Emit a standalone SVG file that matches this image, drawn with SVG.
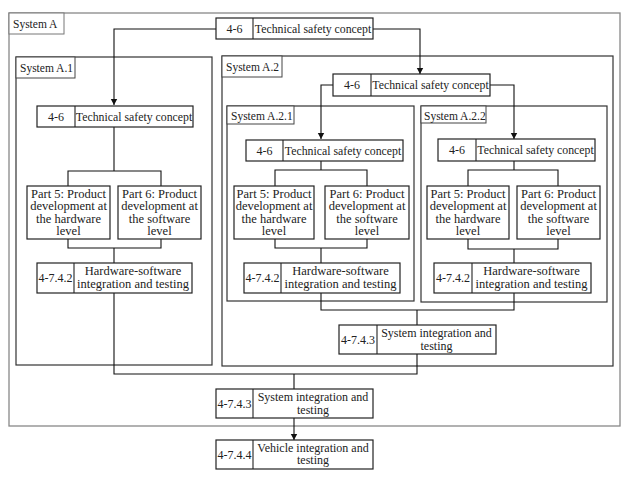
<svg xmlns="http://www.w3.org/2000/svg" width="631" height="483" viewBox="0 0 631 483">
<defs>
<style>
.box{fill:#fff;stroke:#222;stroke-width:1.2}
.frame{fill:none;stroke:#333;stroke-width:1.2}
.outer{fill:none;stroke:#888;stroke-width:1.3}
.lbl{fill:#fff;stroke:#444;stroke-width:1}
.div{stroke:#222;stroke-width:1.1}
.t{font-family:"Liberation Serif","Times New Roman",serif;font-size:11.5px;fill:#222}
.n{font-size:12px}
.s{font-size:11.8px}
.p{font-size:12.5px}
.m{text-anchor:middle}
.c{fill:none;stroke:#111;stroke-width:1.1}
</style>
<marker id="ah" markerWidth="6" markerHeight="8" refX="6" refY="4" orient="auto" markerUnits="userSpaceOnUse"><path d="M0,0.8 L6,4 L0,7.2 Z" fill="#111"/></marker>
</defs>
<rect width="631" height="483" fill="#fff"/>

<g id="systemA">
<rect class="outer" x="9" y="13" width="611" height="413"/>
<rect class="lbl" x="9" y="13" width="55" height="21" style="stroke:#777"/>
<text class="t" x="13" y="28">System A</text>
</g>
<g id="systemA1">
<rect class="frame" x="16" y="57" width="196" height="308"/>
<rect class="lbl" x="16" y="57" width="59" height="21"/>
<text class="t" x="20" y="72">System A.1</text>
</g>
<g id="systemA2">
<rect class="frame" x="222" y="56" width="391" height="310"/>
<rect class="lbl" x="222" y="56" width="60" height="21"/>
<text class="t" x="226" y="71">System A.2</text>
</g>
<g id="systemA21">
<rect class="frame" x="227" y="106" width="187" height="195"/>
<rect class="lbl" x="227" y="106" width="67" height="18"/>
<text class="t" x="231" y="120">System A.2.1</text>
</g>
<g id="systemA22">
<rect class="frame" x="421" y="106" width="186" height="196"/>
<rect class="lbl" x="421" y="106" width="65" height="17"/>
<text class="t" x="424" y="120">System A.2.2</text>
</g>

<g id="connectors">
<path class="c" d="M216,29 H114 V105" marker-end="url(#ah)"/>
<path class="c" d="M373,29 H420 V74" marker-end="url(#ah)"/>
<path class="c" d="M114,127 V171 M68,186 V171 H161 V186 M68,239 V248 H161 V239 M114,248 V263"/>
<path class="c" d="M114,293 V374 H417 V354 M294,374 V389"/>
<path class="c" d="M333,85 H321 V139" marker-end="url(#ah)"/>
<path class="c" d="M490,85 H514 V139" marker-end="url(#ah)"/>
<path class="c" d="M321,161 V170 M275,186 V170 H367 V186 M275,239 V248 H367 V239 M321,248 V263"/>
<path class="c" d="M514,161 V170 M468,186 V170 H558 V186 M468,239 V249 H558 V239 M514,249 V263"/>
<path class="c" d="M321,293 V310 H514 V293 M417,310 V325"/>
<path class="c" d="M294,418 V440" marker-end="url(#ah)"/>
</g>

<g id="tsc_top">
<rect class="box" x="216" y="18" width="157" height="21"/>
<line class="div" x1="253" y1="18" x2="253" y2="39"/>
<text class="t n m" x="234.5" y="33">4-6</text>
<text class="t s m" x="313" y="33">Technical safety concept</text>
</g>

<g id="tsc_a1">
<rect class="box" x="37" y="106" width="156" height="21"/>
<line class="div" x1="75" y1="106" x2="75" y2="127"/>
<text class="t n m" x="56" y="121">4-6</text>
<text class="t s m" x="134" y="121">Technical safety concept</text>
</g>
<g id="p5_a1">
<rect class="box" x="27" y="186" width="83" height="53"/>
<text class="t p m" x="68.5" y="197.5">Part 5: Product</text>
<text class="t p m" x="68.5" y="210">development at</text>
<text class="t p m" x="68.5" y="222.5">the hardware</text>
<text class="t p m" x="68.5" y="235">level</text>
</g>
<g id="p6_a1">
<rect class="box" x="118" y="186" width="83" height="53"/>
<text class="t p m" x="159.5" y="197.5">Part 6: Product</text>
<text class="t p m" x="159.5" y="210">development at</text>
<text class="t p m" x="159.5" y="222.5">the software</text>
<text class="t p m" x="159.5" y="235">level</text>
</g>
<g id="hw_a1">
<rect class="box" x="37" y="263" width="155" height="30"/>
<line class="div" x1="74" y1="263" x2="74" y2="293"/>
<text class="t n m" x="55.5" y="282">4-7.4.2</text>
<text class="t p m" x="133" y="275">Hardware-software</text>
<text class="t p m" x="133" y="288">integration and testing</text>
</g>

<g id="tsc_a2">
<rect class="box" x="333" y="74" width="157" height="22"/>
<line class="div" x1="371" y1="74" x2="371" y2="96"/>
<text class="t n m" x="352" y="89">4-6</text>
<text class="t s m" x="430.5" y="89">Technical safety concept</text>
</g>

<g id="tsc_a21">
<rect class="box" x="246" y="140" width="157" height="21"/>
<line class="div" x1="283" y1="140" x2="283" y2="161"/>
<text class="t n m" x="264.5" y="155">4-6</text>
<text class="t s m" x="343" y="155">Technical safety concept</text>
</g>
<g id="p5_a21">
<rect class="box" x="234" y="186" width="80" height="53"/>
<text class="t p m" x="274" y="197.5">Part 5: Product</text>
<text class="t p m" x="274" y="210">development at</text>
<text class="t p m" x="274" y="222.5">the hardware</text>
<text class="t p m" x="274" y="235">level</text>
</g>
<g id="p6_a21">
<rect class="box" x="325" y="186" width="84" height="53"/>
<text class="t p m" x="367" y="197.5">Part 6: Product</text>
<text class="t p m" x="367" y="210">development at</text>
<text class="t p m" x="367" y="222.5">the software</text>
<text class="t p m" x="367" y="235">level</text>
</g>
<g id="hw_a21">
<rect class="box" x="244" y="263" width="156" height="30"/>
<line class="div" x1="281" y1="263" x2="281" y2="293"/>
<text class="t n m" x="262.5" y="282">4-7.4.2</text>
<text class="t p m" x="340.5" y="275">Hardware-software</text>
<text class="t p m" x="340.5" y="288">integration and testing</text>
</g>

<g id="tsc_a22">
<rect class="box" x="438" y="139" width="157" height="22"/>
<line class="div" x1="476" y1="139" x2="476" y2="161"/>
<text class="t n m" x="457" y="154">4-6</text>
<text class="t s m" x="535.5" y="154">Technical safety concept</text>
</g>
<g id="p5_a22">
<rect class="box" x="427" y="186" width="82" height="53"/>
<text class="t p m" x="468" y="197.5">Part 5: Product</text>
<text class="t p m" x="468" y="210">development at</text>
<text class="t p m" x="468" y="222.5">the hardware</text>
<text class="t p m" x="468" y="235">level</text>
</g>
<g id="p6_a22">
<rect class="box" x="517" y="186" width="83" height="53"/>
<text class="t p m" x="558.5" y="197.5">Part 6: Product</text>
<text class="t p m" x="558.5" y="210">development at</text>
<text class="t p m" x="558.5" y="222.5">the software</text>
<text class="t p m" x="558.5" y="235">level</text>
</g>
<g id="hw_a22">
<rect class="box" x="434" y="263" width="157" height="30"/>
<line class="div" x1="472" y1="263" x2="472" y2="293"/>
<text class="t n m" x="453" y="282">4-7.4.2</text>
<text class="t p m" x="531.5" y="275">Hardware-software</text>
<text class="t p m" x="531.5" y="288">integration and testing</text>
</g>

<g id="si_a2">
<rect class="box" x="339" y="325" width="157" height="29"/>
<line class="div" x1="377" y1="325" x2="377" y2="354"/>
<text class="t n m" x="358" y="344">4-7.4.3</text>
<text class="t n m" x="436.5" y="337">System integration and</text>
<text class="t n m" x="436.5" y="349.5">testing</text>
</g>

<g id="si_a">
<rect class="box" x="216" y="389" width="157" height="29"/>
<line class="div" x1="253" y1="389" x2="253" y2="418"/>
<text class="t n m" x="234.5" y="408">4-7.4.3</text>
<text class="t n m" x="313" y="401">System integration and</text>
<text class="t n m" x="313" y="413.5">testing</text>
</g>

<g id="vehicle">
<rect class="box" x="216" y="440" width="157" height="29"/>
<line class="div" x1="253" y1="440" x2="253" y2="469"/>
<text class="t n m" x="234.5" y="459">4-7.4.4</text>
<text class="t n m" x="313" y="451.5">Vehicle integration and</text>
<text class="t n m" x="313" y="464">testing</text>
</g>
</svg>
